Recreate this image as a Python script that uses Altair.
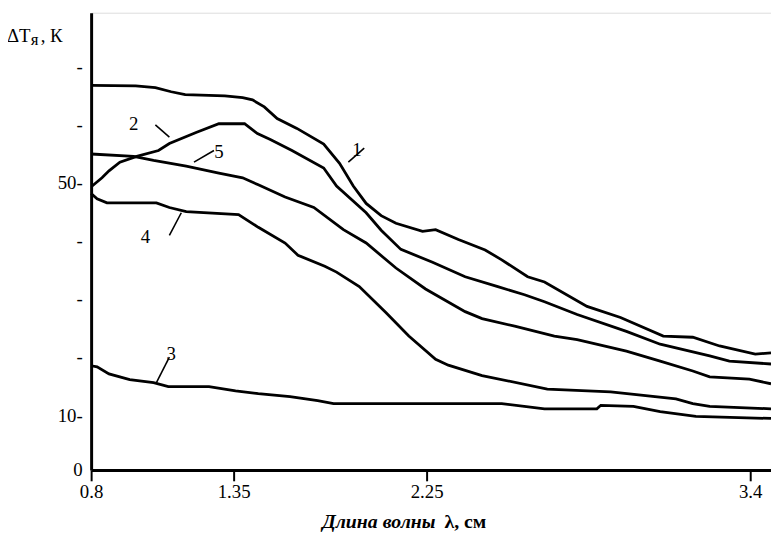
import altair as alt
import pandas as pd

# ---- data (wavelength, cm ; ΔT, K) ----
c1_x = [0.8, 0.972, 1.048, 1.109, 1.163, 1.316, 1.392, 1.438, 1.493, 1.553, 1.645, 1.770, 1.844, 1.908,
        1.968, 2.038, 2.107, 2.231, 2.282, 2.363, 2.458, 2.517, 2.609, 2.669, 2.820, 2.939, 3.091, 3.196,
        3.291, 3.418, 3.474]
c1_y = [66.7, 66.6, 66.3, 65.6, 65.1, 64.9, 64.6, 64.2, 63.0, 61.0, 59.3, 56.6, 53.3, 49.4,
        46.4, 44.3, 43.0, 41.6, 41.9, 40.2, 38.4, 36.7, 33.8, 32.9, 28.7, 26.8, 23.6, 23.4,
        21.9, 20.5, 20.7]

c2_x = [0.804, 0.842, 0.869, 0.911, 0.976, 1.060, 1.102, 1.205, 1.293, 1.401, 1.461, 1.521, 1.622, 1.770,
        1.830, 1.968, 2.038, 2.130, 2.271, 2.387, 2.503, 2.598, 2.669, 2.785, 2.960, 3.080, 3.256, 3.326,
        3.474]
c2_y = [49.4, 50.8, 52.0, 53.5, 54.5, 55.5, 56.7, 58.6, 60.1, 60.1, 58.4, 57.4, 55.5, 52.5,
        49.4, 44.8, 41.8, 38.5, 36.3, 33.8, 32.1, 30.7, 29.5, 27.3, 24.4, 22.2, 20.2, 19.3,
        18.8]

c3_x = [0.8, 0.823, 0.869, 0.949, 1.041, 1.098, 1.255, 1.359, 1.465, 1.613, 1.742, 1.816, 2.517, 2.669,
        2.855, 2.869, 2.985, 3.080, 3.207, 3.474]
c3_y = [18.5, 18.3, 17.1, 16.1, 15.6, 14.9, 14.9, 14.2, 13.7, 13.2, 12.5, 12.0, 12.0, 11.1,
        11.1, 11.7, 11.5, 10.6, 9.8, 9.4]

c4_x = [0.8, 0.823, 0.861, 1.052, 1.102, 1.167, 1.373, 1.465, 1.590, 1.650, 1.775, 1.830, 1.936, 2.061,
        2.167, 2.282, 2.327, 2.447, 2.679, 2.904, 3.136, 3.196, 3.256, 3.474]
c4_y = [48.1, 47.2, 46.5, 46.5, 45.7, 45.0, 44.5, 42.3, 39.6, 37.5, 35.6, 34.6, 32.1, 27.6,
        23.6, 19.6, 18.6, 16.8, 14.5, 14.0, 12.8, 12.0, 11.5, 11.1]

c5_x = [0.8, 0.964, 1.041, 1.167, 1.293, 1.392, 1.465, 1.590, 1.724, 1.862, 1.968, 2.107, 2.245, 2.387,
        2.447, 2.563, 2.704, 2.785, 2.960, 3.080, 3.196, 3.256, 3.397, 3.474]
c5_y = [54.9, 54.5, 53.8, 52.8, 51.6, 50.8, 49.6, 47.5, 45.7, 41.9, 39.6, 35.3, 31.7, 27.8,
        26.6, 25.3, 23.6, 23.0, 21.0, 19.3, 17.6, 16.6, 16.2, 15.4]

# curve labels and their leader strokes
lab_text = ["1", "2", "3", "4", "5"]
lab_x = [1.925, 0.964, 1.109, 1.010, 1.293]
lab_y = [55.6, 60.1, 20.5, 40.6, 55.2]
lead_x1 = [1.885, 1.048, 1.052, 1.102, 1.197]
lead_y1 = [53.5, 59.9, 15.6, 40.9, 53.5]
lead_x2 = [1.959, 1.102, 1.102, 1.148, 1.274]
lead_y2 = [55.9, 57.8, 20.0, 44.8, 55.5]

x_ticks = [0.8, 1.35, 2.25, 3.4]
y_ticks = [0, 10, 20, 30, 40, 50, 60, 70]

FONT = "Liberation Serif"

rows = []
for name, xs, ys in [("1", c1_x, c1_y), ("2", c2_x, c2_y), ("3", c3_x, c3_y),
                     ("4", c4_x, c4_y), ("5", c5_x, c5_y)]:
    for i, (a, b) in enumerate(zip(xs, ys)):
        rows.append({"curve": name, "order": i, "lam": a, "dT": b})
curves = pd.DataFrame(rows)
labels = pd.DataFrame({"t": lab_text, "x": lab_x, "y": lab_y})
leaders = pd.DataFrame({"x1": lead_x1, "y1": lead_y1, "x2": lead_x2, "y2": lead_y2})

W, H = 687, 462
xscale = alt.Scale(domain=[0.8, 1.35, 2.25, 3.4, 3.474], range=[0, 144, 339, 666, 687],
                   nice=False, zero=False)
yscale = alt.Scale(domain=[0, 10, 70, 79.2], range=[462, 406.7, 54, 0], nice=False, zero=False)

xaxis = alt.Axis(values=x_ticks, labelExpr="'' + datum.value", grid=False,
                 domainColor="black", domainWidth=3, tickColor="black", tickWidth=2, tickSize=11,
                 labelFont=FONT, labelFontSize=19, labelColor="black", labelPadding=2,
                 title=None, labelFlush=False)
yaxis = alt.Axis(values=y_ticks,
                 labelExpr="datum.value == 0 ? '0' : datum.value == 10 ? '10-' : datum.value == 50 ? '50-' : '-'",
                 grid=False, ticks=False, domainColor="black", domainWidth=3,
                 labelFont=FONT, labelFontSize=19, labelColor="black", labelPadding=9,
                 title=None)

lines = alt.Chart(curves).mark_line(color="black", strokeWidth=2.8, clip=False).encode(
    x=alt.X("lam:Q", scale=xscale, axis=xaxis),
    y=alt.Y("dT:Q", scale=yscale, axis=yaxis),
    detail="curve:N",
    order="order:Q",
)

lab = alt.Chart(labels).mark_text(font=FONT, fontSize=19, color="black", align="center",
                                  baseline="middle").encode(
    x=alt.X("x:Q", scale=xscale), y=alt.Y("y:Q", scale=yscale), text="t:N")

lead = alt.Chart(leaders).mark_rule(color="black", strokeWidth=1.6).encode(
    x=alt.X("x1:Q", scale=xscale), y=alt.Y("y1:Q", scale=yscale),
    x2="x2:Q", y2="y2:Q")


def txt(s, px, py, size, align="left", weight="normal", style="normal"):
    return alt.Chart(pd.DataFrame({"t": [s]})).mark_text(
        font=FONT, fontSize=size, color="black", align=align, baseline="alphabetic",
        fontWeight=weight, fontStyle=style).encode(
        x=alt.value(px), y=alt.value(py), text="t:N")


ytitle_a = txt("ΔT", -85, 30, 19)
ytitle_b = txt("я", -61, 33, 17)
ytitle_c = txt(", К", -51, 30, 19)
xtitle_a = txt("Длина волны", 348, 521, 20, align="right", weight="bold", style="italic")
xtitle_b = txt("λ, см", 357, 521, 20, align="left", weight="bold")

chart = alt.layer(lines, lead, lab, ytitle_a, ytitle_b, ytitle_c, xtitle_a, xtitle_b).properties(
    width=W, height=H,
    autosize=alt.AutoSizeParams(type="none"),
    padding={"left": 84, "top": 2, "right": 0, "bottom": 63},
).configure_view(stroke=None).configure(background="white")

chart.save("out.html", embed_options={"renderer": "svg", "actions": False})
